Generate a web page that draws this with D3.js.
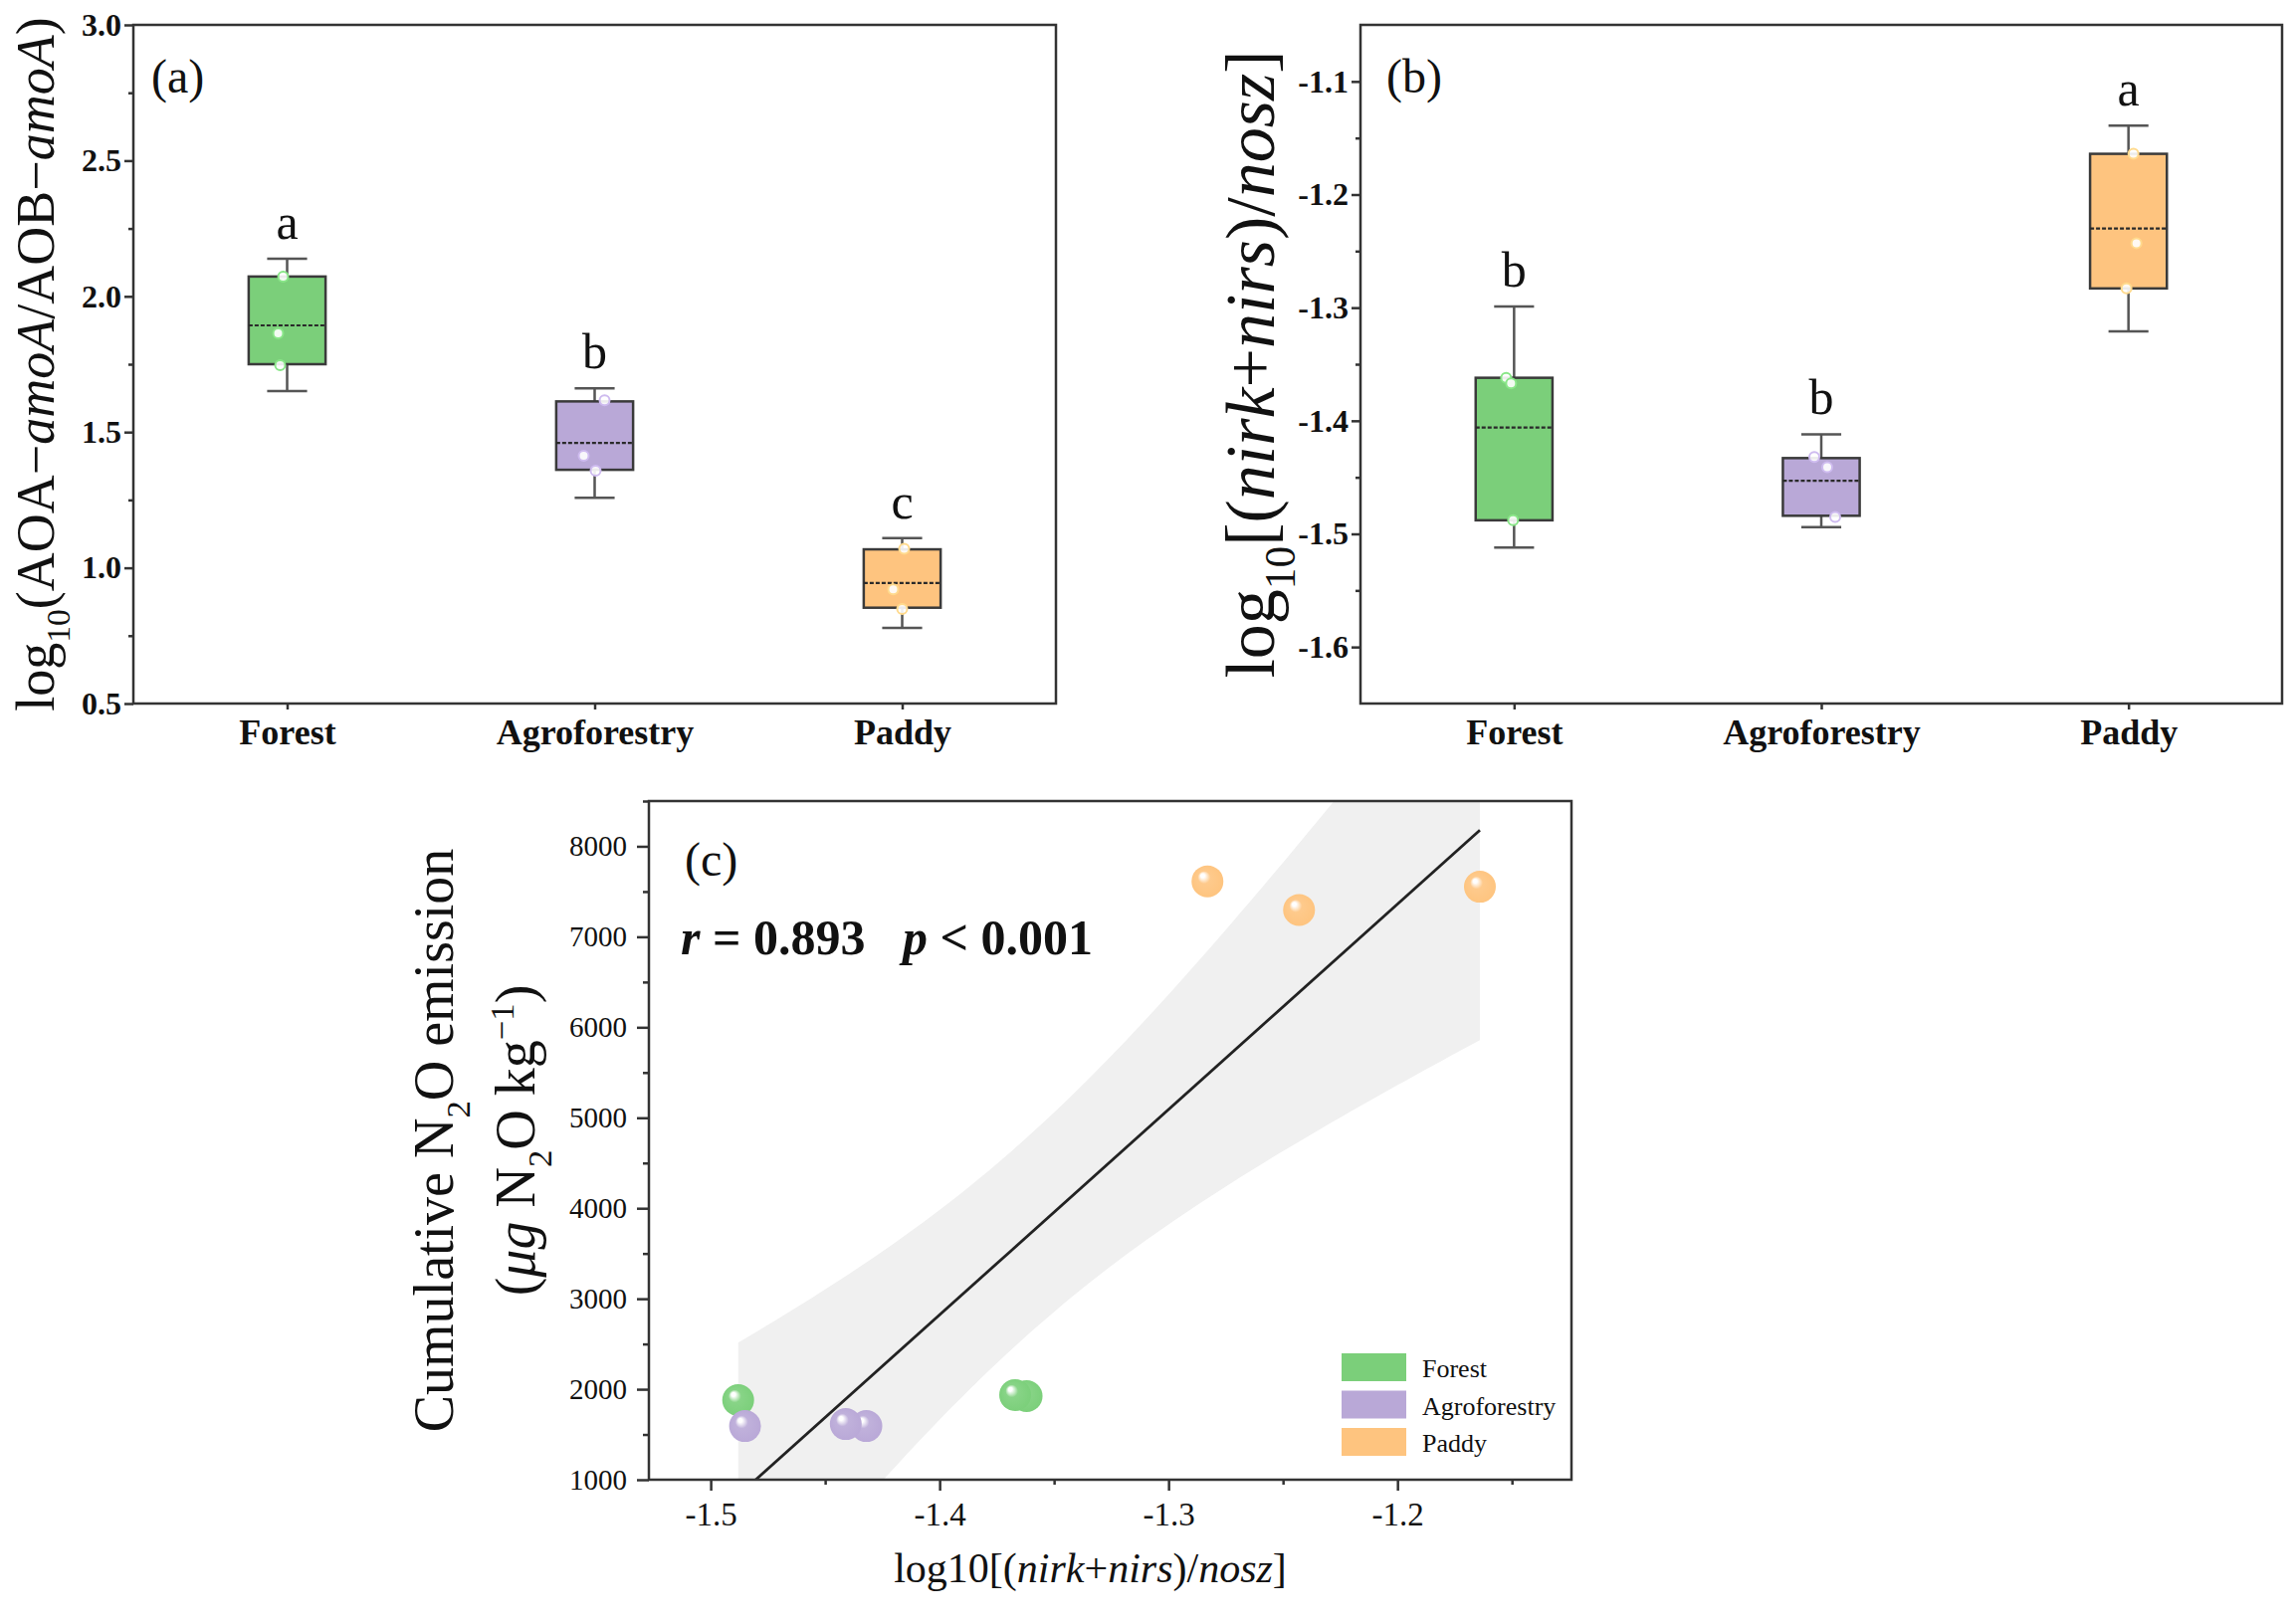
<!DOCTYPE html>
<html>
<head>
<meta charset="utf-8">
<script src="https://cdn.jsdelivr.net/npm/d3@7"></script>
<style>
  body { margin: 0; background: #fff; }
  text { font-family: "Liberation Serif", "Times New Roman", serif; fill: #111; }
</style>
</head>
<body>
<svg id="fig" width="2307" height="1630"></svg>
<script>
// groups shared by all three panels
var groups = ["Forest", "Agroforestry", "Paddy"];
var groupColors = ["#7bcf7a", "#b9a8d7", "#fec47f"];

// (a) log10(AOA-amoA/AOB-amoA) box stats
var amoaWhiskerLow = [1.651, 1.258, 0.779];
var amoaQ1 = [1.750, 1.361, 0.853];
var amoaMedian = [1.893, 1.460, 0.944];
var amoaQ3 = [2.073, 1.613, 1.068];
var amoaWhiskerHigh = [2.139, 1.661, 1.109];
var amoaPoints = [[2.073, 1.864, 1.746], [1.617, 1.413, 1.358], [1.070, 0.921, 0.848]];
var amoaLetters = ["a", "b", "c"];
var amoaTicks = [0.5, 1.0, 1.5, 2.0, 2.5, 3.0];

// (b) log10[(nirk+nirs)/nosz]
var nirWhiskerLow = [-1.512, -1.494, -1.321];
var nirQ1 = [-1.488, -1.484, -1.283];
var nirMedian = [-1.406, -1.453, -1.230];
var nirQ3 = [-1.362, -1.433, -1.164];
var nirWhiskerHigh = [-1.299, -1.412, -1.139];
var nirPoints = [[-1.362, -1.367, -1.488], [-1.432, -1.441, -1.485], [-1.164, -1.243, -1.283]];
var nirLetters = ["b", "b", "a"];
var nirTicks = [-1.6, -1.5, -1.4, -1.3, -1.2, -1.1];

// (c) cumulative N2O emission, same samples as nirPoints
var n2oEmission = [[1924, 1936, 1880], [1593, 1615, 1593], [7553, 7297, 7613]];
var n2oTicks = [1000, 2000, 3000, 4000, 5000, 6000, 7000, 8000];
var ratioTicks = [-1.5, -1.4, -1.3, -1.2];
var statR = "0.893", statP = "< 0.001";

// layout (pixels)
var jitterA = [[-4, -9, -7], [10, -11, 1], [2, -9, 0]];
var jitterB = [[-8, -3, -1], [-7, 6, 14], [5, 8, -2]];
var axisColor = "#333";

var svg = d3.select("#fig");
svg.append("rect").attr("width", 2307).attr("height", 1630).attr("fill", "#fff");
var defs = svg.append("defs");

// text with sub/superscripts and italics
function richText(parent, parts, size) {
    var t = parent.append("text").attr("font-size", size);
    var shift = 0;
    parts.forEach(function (p) {
        var target = p.sub ? size * 0.3 : p.sup ? -size * 0.38 : 0;
        var ts = t.append("tspan").text(p.t).attr("dy", target - shift);
        if (p.sub || p.sup) ts.attr("font-size", size * 0.62);
        if (p.i) ts.attr("font-style", "italic");
        shift = target;
    });
    return t;
}

function styleAxis(g, size, bold) {
    g.attr("color", axisColor);
    g.select(".domain").remove();
    g.selectAll(".tick line").attr("stroke-width", 2.5);
    g.selectAll("text").style("font-size", size + "px").style("font-weight", bold ? "bold" : "normal").style("fill", "#111");
}

function boxPanel(p) {
    var g = svg.append("g");
    var x = d3.scalePoint().domain(groups).range([p.left, p.right]).padding(0.5);
    var y = d3.scaleLinear().domain(p.domain).range([p.bottom, p.top]);
    var boxW = x.step() * 0.25, capW = boxW * 0.52;

    g.append("g").attr("transform", "translate(" + p.left + ",0)")
        .call(d3.axisLeft(y).tickValues(p.minor).tickSize(5).tickFormat(""))
        .call(styleAxis, 32, true);
    g.append("g").attr("transform", "translate(" + p.left + ",0)")
        .call(d3.axisLeft(y).tickValues(p.ticks).tickSize(9).tickPadding(3).tickFormat(function (d) { return d.toFixed(1); }))
        .call(styleAxis, 32, true);
    g.append("g").attr("transform", "translate(0," + p.bottom + ")")
        .call(d3.axisBottom(x).tickSize(6).tickPadding(9))
        .call(styleAxis, 36, true);

    var box = g.selectAll(".box").data(groups).join("g").attr("class", "box");
    // whiskers
    box.append("line")
        .attr("x1", function (d) { return x(d); }).attr("x2", function (d) { return x(d); })
        .attr("y1", function (d, i) { return y(p.wHigh[i]); })
        .attr("y2", function (d, i) { return y(p.wLow[i]); })
        .attr("stroke", "#555").attr("stroke-width", 2.5);
    ["wHigh", "wLow"].forEach(function (k) {
        box.append("line")
            .attr("x1", function (d) { return x(d) - capW / 2; }).attr("x2", function (d) { return x(d) + capW / 2; })
            .attr("y1", function (d, i) { return y(p[k][i]); }).attr("y2", function (d, i) { return y(p[k][i]); })
            .attr("stroke", "#555").attr("stroke-width", 2.5);
    });
    box.append("rect")
        .attr("x", function (d) { return x(d) - boxW / 2; })
        .attr("width", boxW)
        .attr("y", function (d, i) { return y(p.q3[i]); })
        .attr("height", function (d, i) { return y(p.q1[i]) - y(p.q3[i]); })
        .attr("fill", function (d, i) { return groupColors[i]; })
        .attr("stroke", "#3a3a3a").attr("stroke-width", 2.5);
    box.append("line")
        .attr("x1", function (d) { return x(d) - boxW / 2; }).attr("x2", function (d) { return x(d) + boxW / 2; })
        .attr("y1", function (d, i) { return y(p.median[i]); }).attr("y2", function (d, i) { return y(p.median[i]); })
        .attr("stroke", "#2a2a2a").attr("stroke-width", 2.2).attr("stroke-dasharray", "4,2");
    box.each(function (d, i) {
        d3.select(this).selectAll("circle").data(p.points[i]).join("circle")
            .attr("cx", function (v, j) { return x(d) + p.jitter[i][j]; })
            .attr("cy", function (v) { return y(v); })
            .attr("r", 5)
            .attr("fill", "#fff").attr("fill-opacity", 0.9)
            .attr("stroke", d3.color(groupColors[i]).brighter(0.3)).attr("stroke-width", 2);
    });
    box.append("text")
        .attr("x", function (d) { return x(d); })
        .attr("y", function (d, i) { return y(p.wHigh[i]) - 20; })
        .attr("text-anchor", "middle").attr("font-size", 50)
        .text(function (d, i) { return p.letters[i]; });

    g.append("rect").attr("x", p.left).attr("y", p.top)
        .attr("width", p.right - p.left).attr("height", p.bottom - p.top)
        .attr("fill", "none").attr("stroke", axisColor).attr("stroke-width", 2.5);
    g.append("text").attr("x", p.left + p.tagDx).attr("y", p.top + 68)
        .attr("font-size", 48).text(p.tag);

    richText(g, p.label, p.labelSize)
        .attr("text-anchor", "middle")
        .attr("transform", "translate(" + p.labelX + "," + (p.top + p.bottom) / 2 + ") rotate(-90)");
}

boxPanel({
    left: 134, right: 1061, top: 25, bottom: 707,
    domain: [0.5, 3.0], ticks: amoaTicks, minor: [0.75, 1.25, 1.75, 2.25, 2.75],
    wLow: amoaWhiskerLow, q1: amoaQ1, median: amoaMedian, q3: amoaQ3, wHigh: amoaWhiskerHigh,
    points: amoaPoints, jitter: jitterA, letters: amoaLetters, tag: "(a)", tagDx: 18,
    label: [{ t: "log" }, { t: "10", sub: 1 }, { t: "(AOA\u2212" }, { t: "amoA", i: 1 }, { t: "/AOB\u2212" }, { t: "amoA", i: 1 }, { t: ")" }],
    labelSize: 54, labelX: 54
});

boxPanel({
    left: 1367, right: 2293, top: 25, bottom: 707,
    domain: [-1.65, -1.05], ticks: nirTicks, minor: [-1.55, -1.45, -1.35, -1.25, -1.15],
    wLow: nirWhiskerLow, q1: nirQ1, median: nirMedian, q3: nirQ3, wHigh: nirWhiskerHigh,
    points: nirPoints, jitter: jitterB, letters: nirLetters, tag: "(b)", tagDx: 26,
    label: [{ t: "log" }, { t: "10", sub: 1 }, { t: "[(" }, { t: "nirk", i: 1 }, { t: "+" }, { t: "nirs", i: 1 }, { t: ")/" }, { t: "nosz", i: 1 }, { t: "]" }],
    labelSize: 70, labelX: 1280
});

// ---- panel (c) scatter with linear fit and 95% confidence band
var cL = 652, cR = 1579, cT = 805, cB = 1487;
var xc = d3.scaleLinear().domain([-1.527, -1.124]).range([cL, cR]);
var yc = d3.scaleLinear().domain([1000, 8500]).range([cB, cT]);
var gc = svg.append("g");

defs.append("clipPath").attr("id", "clipC").append("rect")
    .attr("x", cL).attr("y", cT).attr("width", cR - cL).attr("height", cB - cT);

var pts = [];
groups.forEach(function (name, i) {
    nirPoints[i].forEach(function (v, j) { pts.push({ x: v, y: n2oEmission[i][j], gi: i }); });
});
var n = pts.length;
var mx = d3.mean(pts, function (d) { return d.x; }), my = d3.mean(pts, function (d) { return d.y; });
var sxx = d3.sum(pts, function (d) { return (d.x - mx) * (d.x - mx); });
var sxy = d3.sum(pts, function (d) { return (d.x - mx) * (d.y - my); });
var slope = sxy / sxx, icpt = my - slope * mx;
var sse = d3.sum(pts, function (d) { var e = d.y - icpt - slope * d.x; return e * e; });
var se = Math.sqrt(sse / (n - 2)), tCrit = 2.3646;
function fit(v) { return icpt + slope * v; }
function half(v) { return tCrit * se * Math.sqrt(1 / n + (v - mx) * (v - mx) / sxx); }
var xr = d3.extent(pts, function (d) { return d.x; });
var grid = d3.range(81).map(function (k) { return xr[0] + (xr[1] - xr[0]) * k / 80; });

var plotArea = gc.append("g").attr("clip-path", "url(#clipC)");
plotArea.append("path").datum(grid)
    .attr("d", d3.area().x(function (v) { return xc(v); })
        .y0(function (v) { return yc(fit(v) - half(v)); })
        .y1(function (v) { return yc(fit(v) + half(v)); }))
    .attr("fill", "#f0f0f0");
plotArea.append("line")
    .attr("x1", xc(xr[0])).attr("y1", yc(fit(xr[0])))
    .attr("x2", xc(xr[1])).attr("y2", yc(fit(xr[1])))
    .attr("stroke", "#222").attr("stroke-width", 2.8);

groupColors.forEach(function (col, i) {
    var gr = defs.append("radialGradient").attr("id", "ball" + i)
        .attr("cx", "50%").attr("cy", "50%").attr("r", "52%").attr("fx", "33%").attr("fy", "30%");
    gr.append("stop").attr("offset", "0%").attr("stop-color", "#fff");
    gr.append("stop").attr("offset", "12%").attr("stop-color", "#fff").attr("stop-opacity", 0.95);
    gr.append("stop").attr("offset", "38%").attr("stop-color", d3.interpolateRgb(col, "#fff")(0.1));
    gr.append("stop").attr("offset", "100%").attr("stop-color", col);
});
gc.selectAll(".ball").data(pts).join("circle").attr("class", "ball")
    .attr("cx", function (d) { return xc(d.x); })
    .attr("cy", function (d) { return yc(d.y); })
    .attr("r", 16)
    .attr("fill", function (d) { return "url(#ball" + d.gi + ")"; });

// axes
gc.append("g").attr("transform", "translate(" + cL + ",0)")
    .call(d3.axisLeft(yc).tickValues(d3.range(1500, 8600, 1000)).tickSize(6).tickFormat(""))
    .call(styleAxis, 28, false);
gc.append("g").attr("transform", "translate(" + cL + ",0)")
    .call(d3.axisLeft(yc).tickValues(n2oTicks).tickSize(12).tickPadding(10).tickFormat(d3.format("d")))
    .call(styleAxis, 29, false);
gc.append("g").attr("transform", "translate(0," + cB + ")")
    .call(d3.axisBottom(xc).tickValues([-1.45, -1.35, -1.25, -1.15]).tickSize(5).tickFormat(""))
    .call(styleAxis, 32, false);
gc.append("g").attr("transform", "translate(0," + cB + ")")
    .call(d3.axisBottom(xc).tickValues(ratioTicks).tickSize(11).tickPadding(12).tickFormat(function (d) { return d.toFixed(1); }))
    .call(styleAxis, 33, false);
gc.append("rect").attr("x", cL).attr("y", cT).attr("width", cR - cL).attr("height", cB - cT)
    .attr("fill", "none").attr("stroke", axisColor).attr("stroke-width", 2.5);

gc.append("text").attr("x", cL + 36).attr("y", cT + 75).attr("font-size", 48).text("(c)");
richText(gc, [{ t: "r", i: 1 }, { t: " = " + statR + "   " }, { t: "p", i: 1 }, { t: " " + statP }], 50)
    .attr("x", cL + 32).attr("y", cT + 154)
    .attr("font-weight", "bold").style("white-space", "pre");

richText(gc, [{ t: "Cumulative N" }, { t: "2", sub: 1 }, { t: "O emission" }], 56)
    .attr("text-anchor", "middle")
    .attr("transform", "translate(455," + (cT + cB) / 2 + ") rotate(-90)");
richText(gc, [{ t: "(" }, { t: "\u03bcg", i: 1 }, { t: " N" }, { t: "2", sub: 1 }, { t: "O kg" }, { t: "\u22121", sup: 1 }, { t: ")" }], 56)
    .attr("text-anchor", "middle")
    .attr("transform", "translate(537," + (cT + cB) / 2 + ") rotate(-90)");
richText(gc, [{ t: "log10[(" }, { t: "nirk", i: 1 }, { t: "+" }, { t: "nirs", i: 1 }, { t: ")/" }, { t: "nosz", i: 1 }, { t: "]" }], 42)
    .attr("text-anchor", "middle")
    .attr("x", (cL + cR) / 2 - 20).attr("y", 1590);

// legend
var leg = gc.selectAll(".leg").data(groups).join("g").attr("class", "leg")
    .attr("transform", function (d, i) { return "translate(1348," + (1360 + i * 37.5) + ")"; });
leg.append("rect").attr("width", 65).attr("height", 28)
    .attr("fill", function (d, i) { return groupColors[i]; });
leg.append("text").attr("x", 81).attr("y", 24).attr("font-size", 26)
    .text(function (d) { return d; });
</script>
</body>
</html>
